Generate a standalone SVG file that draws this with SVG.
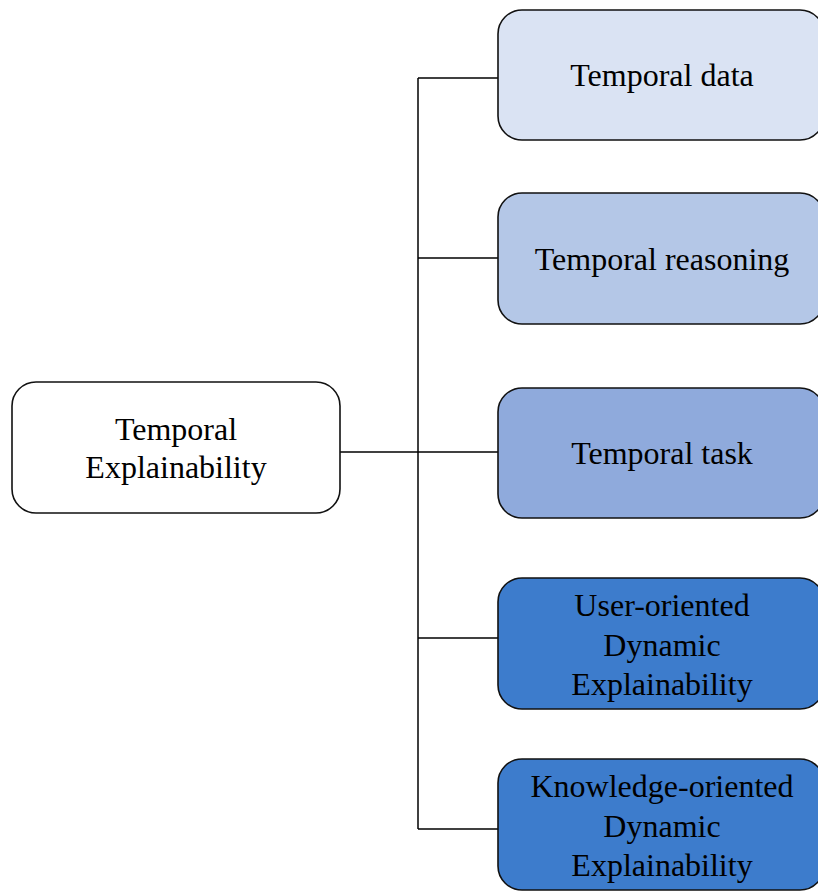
<svg xmlns="http://www.w3.org/2000/svg" width="818" height="891" viewBox="0 0 818 891">
  <style>
    .box { stroke: #111; stroke-width: 1.6; }
    .lbl { font-family: "Liberation Serif", "Times New Roman", serif; font-size: 32px; fill: #000; text-anchor: middle; }
    .wire { stroke: #000; stroke-width: 1.5; fill: none; }
  </style>
  <rect width="818" height="891" fill="#fff"/>

  <!-- tree connectors -->
  <g id="connectors">
    <path class="wire" d="M340,452 H498"/>
    <path class="wire" d="M418,78 V829"/>
    <path class="wire" d="M418,78 H498"/>
    <path class="wire" d="M418,258 H498"/>
    <path class="wire" d="M418,638 H498"/>
    <path class="wire" d="M418,829 H498"/>
  </g>

  <g id="root">
    <rect class="box" x="12" y="382" width="328" height="131" rx="24" fill="#fff"/>
    <text class="lbl" x="176" y="440">Temporal</text>
    <text class="lbl" x="176" y="478">Explainability</text>
  </g>

  <g id="temporal-data">
    <rect class="box" x="498" y="10" width="326" height="130" rx="24" fill="#DAE3F3"/>
    <text class="lbl" x="662" y="86">Temporal data</text>
  </g>

  <g id="temporal-reasoning">
    <rect class="box" x="498" y="193" width="326" height="131" rx="24" fill="#B4C7E7"/>
    <text class="lbl" x="662" y="270">Temporal reasoning</text>
  </g>

  <g id="temporal-task">
    <rect class="box" x="498" y="388" width="326" height="130" rx="24" fill="#8FAADC"/>
    <text class="lbl" x="662" y="464">Temporal task</text>
  </g>

  <g id="user-oriented">
    <rect class="box" x="498" y="578" width="326" height="131" rx="24" fill="#3D7CCC"/>
    <text class="lbl" x="662" y="616">User-oriented</text>
    <text class="lbl" x="662" y="656">Dynamic</text>
    <text class="lbl" x="662" y="695">Explainability</text>
  </g>

  <g id="knowledge-oriented">
    <rect class="box" x="498" y="759" width="326" height="131" rx="24" fill="#3D7CCC"/>
    <text class="lbl" x="662" y="797">Knowledge-oriented</text>
    <text class="lbl" x="662" y="837">Dynamic</text>
    <text class="lbl" x="662" y="876">Explainability</text>
  </g>
</svg>
